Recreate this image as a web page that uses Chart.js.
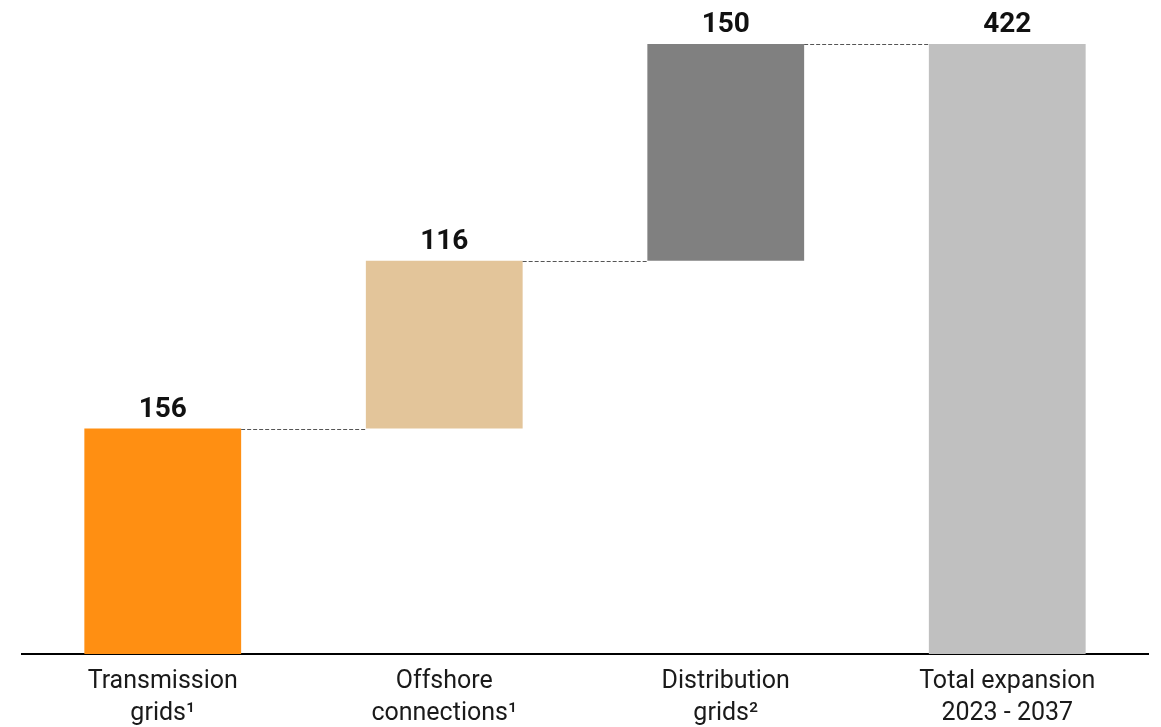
<!DOCTYPE html>
<html>
<head>
<meta charset="utf-8">
<script src="https://cdn.jsdelivr.net/npm/chart.js@4/dist/chart.umd.min.js"></script>
<style>
  html, body { margin: 0; padding: 0; background: #fff; }
  #wrap { width: 1161px; height: 727px; }
</style>
</head>
<body>
<div id="wrap"><canvas id="chart"></canvas></div>
<script>
// ---------- Data ----------
const categories = [
    ['Transmission', 'grids¹'],
    ['Offshore', 'connections¹'],
    ['Distribution', 'grids²'],
    ['Total expansion', '2023 - 2037']
];
const steps = [156, 116, 150];
const total = 422;
const barColors = ['#FF8F12', '#E3C59A', '#808080', '#C0C0C0'];

// floating ranges built from steps
const ranges = [];
let run = 0;
steps.forEach(v => { ranges.push([run, run + v]); run += v; });
ranges.push([0, total]);
const valueLabels = [...steps, total];

const FONT = 'Roboto, "DejaVu Sans", sans-serif';

// ---------- Connectors + labels ----------
const waterfallPlugin = {
    id: 'waterfall',
    afterDatasetsDraw(chart) {
        const { ctx } = chart;
        const y = chart.scales.y;
        const meta = chart.getDatasetMeta(0);
        ctx.save();
        // dashed connectors
        ctx.strokeStyle = '#555';
        ctx.lineWidth = 1;
        ctx.setLineDash([4, 2]);
        for (let i = 0; i < meta.data.length - 1; i++) {
            const a = meta.data[i], b = meta.data[i + 1];
            const py = Math.round(y.getPixelForValue(ranges[i][1])) + 0.5;
            ctx.beginPath();
            ctx.moveTo(a.x + a.width / 2, py);
            ctx.lineTo(b.x - b.width / 2, py);
            ctx.stroke();
        }
        ctx.setLineDash([]);
        // value labels
        ctx.fillStyle = '#111';
        ctx.font = 'bold 28px ' + FONT;
        ctx.textAlign = 'center';
        ctx.textBaseline = 'alphabetic';
        meta.data.forEach((bar, i) => {
            const top = y.getPixelForValue(ranges[i][1]);
            ctx.fillText(String(valueLabels[i]), bar.x, top - 12);
        });
        ctx.restore();
    }
};

new Chart(document.getElementById('chart'), {
    type: 'bar',
    data: {
        labels: categories,
        datasets: [{
            data: ranges,
            backgroundColor: barColors,
            borderWidth: 0,
            categoryPercentage: 1,
            barPercentage: 0.557
        }]
    },
    options: {
        responsive: true,
        maintainAspectRatio: false,
        animation: false,
        layout: { padding: { top: 44, left: 22, right: 13, bottom: 0 } },
        plugins: { legend: { display: false }, tooltip: { enabled: false } },
        scales: {
            x: {
                grid: { display: false, drawTicks: false },
                border: { display: true, color: '#000', width: 2 },
                ticks: {
                    color: '#1a1a1a',
                    font: { family: FONT, size: 25, lineHeight: 1.27 },
                    padding: 12,
                    maxRotation: 0
                },
                afterFit(scale) { scale.height = 73; }
            },
            y: {
                display: false,
                min: 0,
                max: total
            }
        }
    },
    plugins: [waterfallPlugin]
});
</script>
</body>
</html>
